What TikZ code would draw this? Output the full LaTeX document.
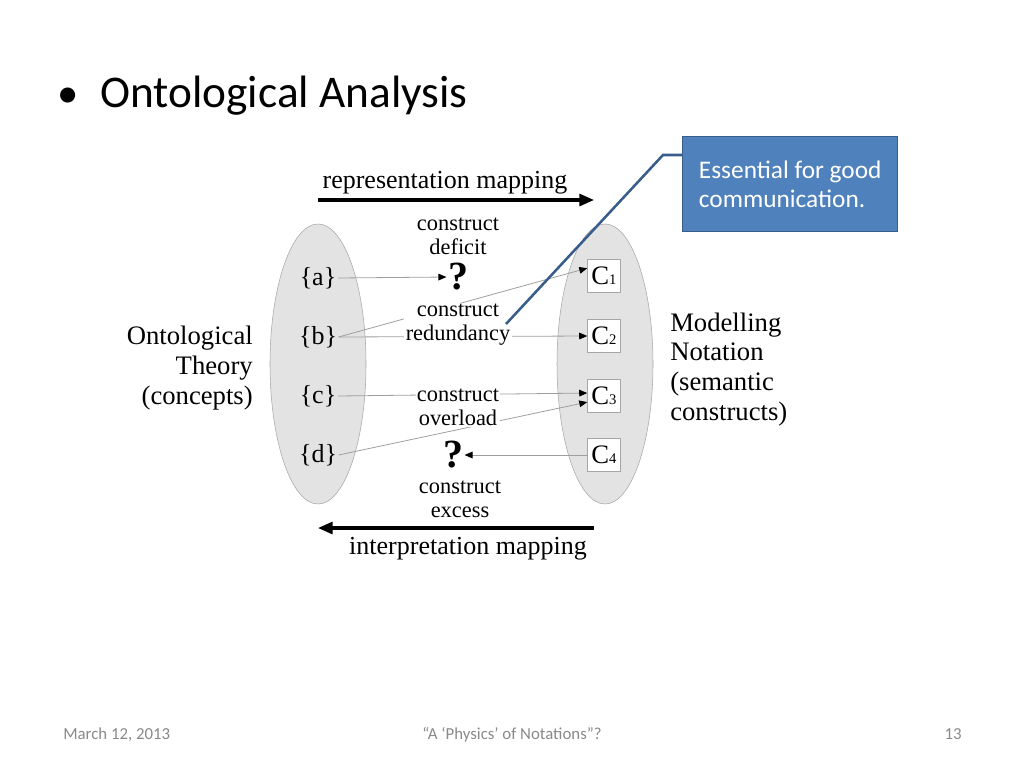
\documentclass[tikz,border=0pt]{standalone}
\usepackage{fontspec}
\setmainfont{Liberation Serif}
\newfontfamily\calibri{Carlito}
\usetikzlibrary{arrows.meta}
\definecolor{bulle}{HTML}{4F81BD}
\definecolor{bord}{HTML}{385D8A}
\definecolor{pied}{HTML}{898989}
\definecolor{nuage}{HTML}{E3E3E3}
\begin{document}
\begin{tikzpicture}[x=0.75pt,y=-0.75pt]
    \useasboundingbox (0,0) rectangle (1024,768);
    %%%%%%%%%%%%%%%%%%%%%%%%%%%%%%%%%%%%%% Titre
    \node[anchor=base west,inner sep=0] (puce) at (57,107){\calibri\fontsize{32}{40}\selectfont •};
    \node[anchor=base west,inner sep=0] (titre) at (100,107){\calibri\fontsize{34}{40}\selectfont Ontological Analysis};

    %%%%%%%%%%%%%%%%%%%%%%%%%%%%%%%%%%%%%% Ellipses
    \filldraw[nuage,draw=gray!70] (318,364) ellipse (48 and 140);
    \filldraw[nuage,draw=gray!70] (605,364) ellipse (48 and 140);

    %%%%%%%%%%%%%%%%%%%%%%%%%%%%%%%%%%%%%% Concepts et constructs
    \tikzstyle{elem}=[font=\fontsize{19.5}{20}\selectfont,inner sep=1pt]
    \tikzstyle{boite}=[font=\fontsize{20}{20}\selectfont,draw=gray!70,fill=white,minimum size=24.75pt,inner sep=0]
    \tikzstyle{quest}=[font=\fontsize{30}{30}\selectfont\bfseries,inner sep=1pt]
    \node[elem] (a) at (318,278){\{a\}};
    \node[elem] (b) at (318,337){\{b\}};
    \node[elem] (c) at (318,396){\{c\}};
    \node[elem] (d) at (318,455){\{d\}};

    \node[boite] (C1) at (604,276){C{\fontsize{11}{11}\selectfont 1}};
    \node[boite] (C2) at (604,336){C{\fontsize{11}{11}\selectfont 2}};
    \node[boite] (C3) at (604,396){C{\fontsize{11}{11}\selectfont 3}};
    \node[boite] (C4) at (604,455){C{\fontsize{11}{11}\selectfont 4}};

    \node[quest] (q1) at (458,277){?};
    \node[quest] (q2) at (453,455){?};

    %%%%%%%%%%%%%%%%%%%%%%%%%%%%%%%%%%%%%% Fleches
    \tikzstyle{fleche}=[draw=gray!75,line width=0.6pt,-{Triangle[color=black,length=6pt,width=5pt]}]
    \draw[fleche] (a.east)--(q1.west);
    \draw[fleche] (b.east)--(C1.155);
    \draw[fleche] (b.east)--(C2.west);
    \draw[fleche] (c.east)--(C3.170);
    \draw[fleche] (d.east)--(C3.200);
    \draw[fleche] (C4.west)--(q2.east);

    %%%%%%%%%%%%%%%%%%%%%%%%%%%%%%%%%%%%%% Textes
    \tikzstyle{petit}=[font=\fontsize{16.8}{17.3}\selectfont,align=center,fill=white,inner sep=1pt,anchor=base]
    \node[petit] (deficit) at (458,254){construct\\deficit};
    \node[petit] (redond) at (458,340){construct\\redundancy};
    \node[petit] (surch) at (458,425){construct\\overload};
    \node[petit] (exces) at (460,517){construct\\excess};

    \tikzstyle{grand}=[font=\fontsize{20}{22.2}\selectfont,inner sep=0]
    \node[grand,align=right,anchor=base east] (onto) at (253,404){Ontological\\Theory\\(concepts)};
    \node[grand,align=left,anchor=base west] (modele) at (670,420){Modelling\\Notation\\(semantic\\constructs)};

    %%%%%%%%%%%%%%%%%%%%%%%%%%%%%%%%%%%%%% Correspondances
    \tikzstyle{gros}=[line width=2.3pt,-{Triangle[length=11pt,width=9pt]}]
    \coordinate (r1) at (318,200);
    \coordinate (r2) at (594,200);
    \coordinate (i1) at (594,528);
    \coordinate (i2) at (318,528);
    \draw[gros] (r1)--(r2);
    \draw[gros] (i1)--(i2);
    \node[font=\fontsize{19.5}{21}\selectfont,anchor=base] (repr) at (445,188){representation mapping};
    \node[font=\fontsize{19.5}{21}\selectfont,anchor=base] (interp) at (468,554){interpretation mapping};

    %%%%%%%%%%%%%%%%%%%%%%%%%%%%%%%%%%%%%% Bulle
    \node[anchor=north west,fill=bulle,draw=bord,line width=1.1pt,text=white,
          minimum width=161.25pt,minimum height=71.25pt,align=left,
          font=\calibri\fontsize{19}{21.75}\selectfont] (note) at (682,136){Essential for good\\communication.};
    \coordinate (coude) at (663,155);
    \coordinate (bout) at (506,324);
    \draw[bord,line width=1.9pt] (coude -| note.west)--(coude)--(bout);

    %%%%%%%%%%%%%%%%%%%%%%%%%%%%%%%%%%%%%% Pied de page
    \tikzstyle{pdp}=[font=\calibri\fontsize{12.6}{14}\selectfont,text=pied,inner sep=0]
    \node[pdp,anchor=base west] (date) at (63,739){March 12, 2013};
    \node[pdp,anchor=base] (sujet) at (512,739){“A ‘Physics’ of Notations”?};
    \node[pdp,anchor=base east] (num) at (962,739){13};
\end{tikzpicture}
\end{document}
